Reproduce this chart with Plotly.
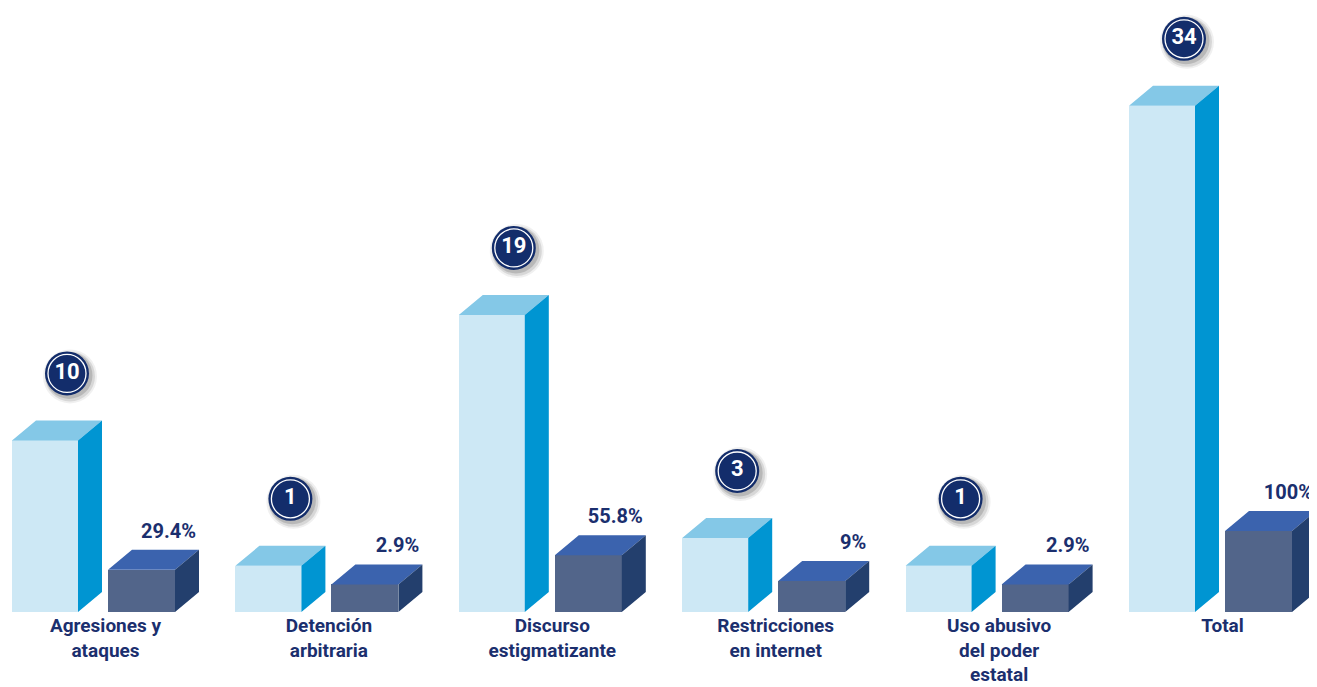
import plotly.graph_objects as go

# ---- data ----
categories = ["Agresiones y<br>ataques", "Detención<br>arbitraria", "Discurso<br>estigmatizante",
              "Restricciones<br>en internet", "Uso abusivo<br>del poder<br>estatal", "Total"]
counts = [10, 1, 19, 3, 1, 34]
pcts = [29.4, 2.9, 55.8, 9, 2.9, 100]
pct_labels = ["29.4%", "2.9%", "55.8%", "9%", "2.9%", "100%"]

# ---- geometry / style ----
W, H = 1309, 679            # page body adds 8px offset
MB = 75
PLOT_H = H - MB
PXX = 223.4                 # px per category
X0 = 97.5                   # px of first category centre (figure coords)
SY, OY = 13.94, 32.2        # count axis: px per unit, px offset of zero
SY2, OY2 = 0.55, 26.0       # pct axis
DX, DY = 24, 20             # 3D depth in px

NAVY = "#1b2f6e"
LF, LT, LS = "#cde8f5", "#84c8e7", "#0095d2"
DF, DT, DS = "#52658a", "#3b63ae", "#233f6d"

yr = [-OY / SY, (PLOT_H - OY) / SY]
y2r = [-OY2 / SY2, (PLOT_H - OY2) / SY2]
xr = [-X0 / PXX, (W - X0) / PXX]

def px(v):
    return v / PXX

fig = go.Figure()

def box(values, yaxis, sy, base, left_px, width_px, cf, ct, cs, name):
    xs = list(range(len(values)))
    centers = [i + px(left_px + width_px / 2) for i in xs]
    fig.add_trace(go.Bar(x=centers, y=[v - base for v in values], base=base, width=px(width_px),
                         marker=dict(color=cf, line=dict(width=0)), yaxis=yaxis, name=name,
                         showlegend=False, hoverinfo="skip"))
    dxu, dyu = px(DX), DY / sy
    tx, ty, sx, syy = [], [], [], []
    for i, v in zip(xs, values):
        l = i + px(left_px)
        r = i + px(left_px + width_px)
        tx += [l, l + dxu, r + dxu, r, l, None]
        ty += [v, v + dyu, v + dyu, v, v, None]
        sx += [r, r + dxu, r + dxu, r, r, None]
        syy += [base, base + dyu, v + dyu, v, base, None]
    for X, Y, c in ((tx, ty, ct), (sx, syy, cs)):
        fig.add_trace(go.Scatter(x=X, y=Y, mode="lines", fill="toself", fillcolor=c,
                                 line=dict(width=0, color=c), yaxis=yaxis, cliponaxis=False,
                                 showlegend=False, hoverinfo="skip"))

box(counts, "y", SY, yr[0], -93.5, 66, LF, LT, LS, "count")
box(pcts, "y2", SY2, y2r[0], 2.5, 67, DF, DT, DS, "pct")

# count badges
bx = [i + px(-93.5 + (66 + DX) / 2 + 10) for i in range(len(counts))]
by = [v + (DY + 47) / SY for v in counts]
for s, op, ox, oy in ((54, 0.06, 3, 3), (50, 0.10, 3, 3), (47, 0.14, 2, 2)):
    fig.add_trace(go.Scatter(x=[x + px(ox) for x in bx], y=[y - oy / SY for y in by], mode="markers",
                             marker=dict(size=s, color=f"rgba(0,0,0,{op})"), cliponaxis=False,
                             showlegend=False, hoverinfo="skip"))
fig.add_trace(go.Scatter(x=bx, y=by, mode="markers", marker=dict(size=44, color="#132d6b"),
                         cliponaxis=False, showlegend=False, hoverinfo="skip"))
fig.add_trace(go.Scatter(x=bx, y=by, mode="markers+text", text=[str(c) for c in counts],
                         textposition="middle center",
                         textfont=dict(family="Roboto", size=22, color="white", weight="bold"),
                         marker=dict(size=38, color="#132d6b", line=dict(color="white", width=1.3)),
                         cliponaxis=False, showlegend=False, hoverinfo="skip"))

# percent labels (right-aligned near the box's right edge)
px_x = [i + px(2.5 + 67 + DX - 3) for i in range(len(pcts))]
px_y = [v + (DY + 17) / SY2 for v in pcts]
fig.add_trace(go.Scatter(x=px_x, y=px_y, yaxis="y2", mode="text", text=pct_labels,
                         textposition="middle left",
                         textfont=dict(family="Roboto", size=20, color=NAVY, weight="bold"),
                         cliponaxis=False, showlegend=False, hoverinfo="skip"))

fig.update_layout(
    width=W, height=H, margin=dict(l=0, r=0, t=0, b=MB, autoexpand=False),
    paper_bgcolor="white", plot_bgcolor="white", barmode="overlay", bargap=0,
    xaxis=dict(range=xr, tickmode="array", tickvals=list(range(len(categories))), ticktext=categories,
               showgrid=False, zeroline=False, showline=False, ticks="", ticklabelstandoff=0,
               automargin=False,
               tickfont=dict(family="Roboto", size=19, color=NAVY, weight="bold"), fixedrange=True),
    yaxis=dict(range=yr, visible=False, fixedrange=True),
    yaxis2=dict(range=y2r, visible=False, overlaying="y", fixedrange=True),
)

fig.write_html("out.html")
